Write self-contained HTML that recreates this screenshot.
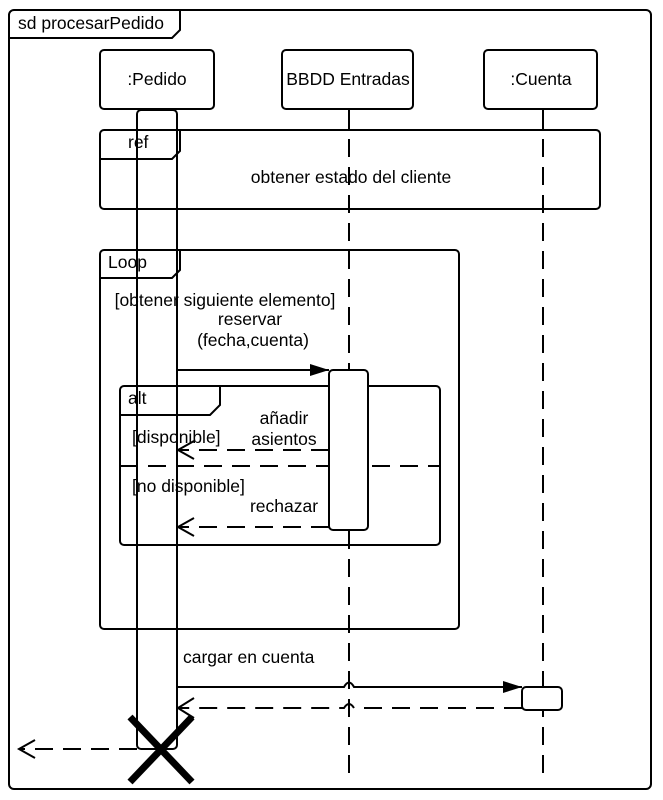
<!DOCTYPE html>
<html><head><meta charset="utf-8"><style>
html,body{margin:0;padding:0;background:#fff}
svg{display:block}
text{font-family:"Liberation Sans",sans-serif;font-size:17.5px;fill:#000}
</style></head><body>
<svg width="663" height="800" viewBox="0 0 663 800" xmlns="http://www.w3.org/2000/svg">
<defs>
<marker id="fill" markerWidth="20" markerHeight="14" refX="19" refY="7" orient="auto" markerUnits="userSpaceOnUse"><path d="M0,1 L19,7 L0,13 Z" fill="#000"/></marker>
</defs>
<g fill="none" stroke="#000" stroke-width="2">
<rect x="9" y="10" width="642" height="779" rx="5" fill="#fff"/>
<path d="M9,38 L172,38 L180,30 L180,10"/>
<line x1="349" y1="110" x2="349" y2="130"/>
<line x1="543" y1="110" x2="543" y2="130"/>
<line x1="349" y1="139" x2="349" y2="780" stroke-dasharray="18 10"/>
<line x1="543" y1="139" x2="543" y2="780" stroke-dasharray="18 10"/>
<rect x="100" y="50" width="114" height="59" rx="4" fill="#fff"/>
<rect x="282" y="50" width="131" height="59" rx="4" fill="#fff"/>
<rect x="484" y="50" width="113" height="59" rx="4" fill="#fff"/>
<rect x="100" y="130" width="500" height="79" rx="4"/>
<path d="M100,159 L172,159 L180,151 L180,130"/>
<rect x="100" y="250" width="359" height="379" rx="4"/>
<path d="M100,278 L172,278 L180,270 L180,250"/>
<rect x="120" y="386" width="320" height="159" rx="4"/>
<path d="M120,415 L210,415 L220,405 L220,386"/>
<line x1="120" y1="466" x2="440" y2="466" stroke-dasharray="18 10"/>
<rect x="137" y="110" width="40" height="639" rx="4" fill="none"/>
<rect x="329" y="370" width="39" height="160" rx="4" fill="#fff"/>
<line x1="177" y1="370" x2="329" y2="370" marker-end="url(#fill)"/>
<line x1="329" y1="450" x2="179" y2="450" stroke-dasharray="18 10"/>
<path d="M194,441 L178,450 L194,459"/>
<line x1="329" y1="527" x2="179" y2="527" stroke-dasharray="18 10"/>
<path d="M194,518 L178,527 L194,536"/>
<path d="M177,687 L344,687 Q349,678 354,687 L522,687" marker-end="url(#fill)"/>
<rect x="522" y="687" width="40" height="23" rx="4" fill="#fff"/>
<path d="M522,708 L354,708 Q349,700 344,708 L179,708" stroke-dasharray="18 10"/>
<path d="M194,698 L178,708 L194,718"/>
<line x1="137" y1="749" x2="20" y2="749" stroke-dasharray="18 10"/>
<path d="M35,740 L19,749 L35,758"/>
</g>
<g stroke="#000" stroke-width="7">
<line x1="130" y1="717" x2="192" y2="782"/>
<line x1="192" y1="717" x2="130" y2="782"/>
</g>
<text x="18" y="29">sd procesarPedido</text>
<text x="157" y="85" text-anchor="middle">:Pedido</text>
<text x="348" y="85" text-anchor="middle">BBDD Entradas</text>
<text x="541" y="85" text-anchor="middle">:Cuenta</text>
<text x="128" y="148">ref</text>
<text x="351" y="183" text-anchor="middle">obtener estado del cliente</text>
<text x="108" y="268">Loop</text>
<text x="225" y="306" text-anchor="middle">[obtener siguiente elemento]</text>
<text x="250" y="325" text-anchor="middle">reservar</text>
<text x="253" y="346" text-anchor="middle">(fecha,cuenta)</text>
<text x="128" y="404">alt</text>
<text x="284" y="424" text-anchor="middle">añadir</text>
<text x="284" y="445" text-anchor="middle">asientos</text>
<text x="132" y="443">[disponible]</text>
<text x="132" y="492">[no disponible]</text>
<text x="284" y="512" text-anchor="middle">rechazar</text>
<text x="183" y="663">cargar en cuenta</text>
</svg>
</body></html>
